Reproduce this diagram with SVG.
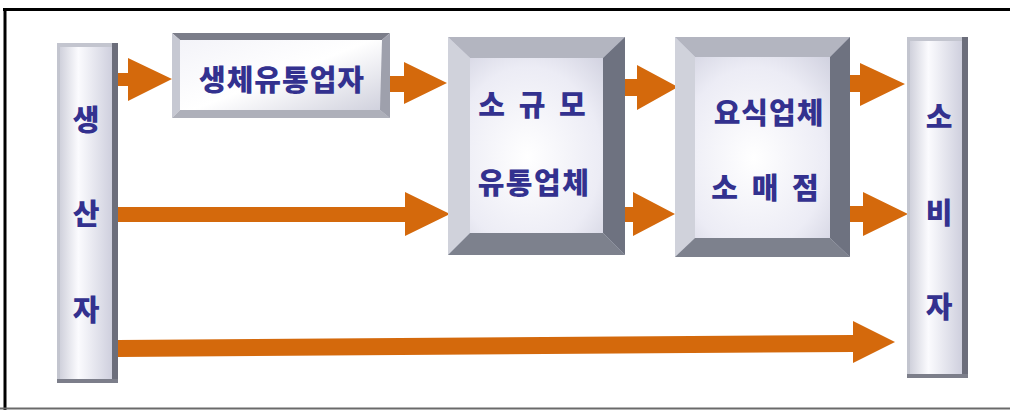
<svg xmlns="http://www.w3.org/2000/svg" width="1010" height="410" viewBox="0 0 1010 410">
<defs>
<style>
.t{font-family:"Noto Sans CJK KR","Noto Sans CJK SC",sans-serif;font-weight:900;font-size:29px;fill:#33318f;text-anchor:middle;dominant-baseline:central}
.arrow{fill:#d4690c}
.bt{fill:#b3b5c0}.bl{fill:#d0d2db}.br{fill:#6e7280}.bb{fill:#7d818d}
</style>
<linearGradient id="col" x1="0" y1="0" x2="1" y2="0">
<stop offset="0" stop-color="#c9cad6"/>
<stop offset="0.35" stop-color="#fbfbfe"/>
<stop offset="1" stop-color="#c7c8d8"/>
</linearGradient>
<radialGradient id="face" cx="0.45" cy="0.55" r="0.75">
<stop offset="0" stop-color="#ffffff"/>
<stop offset="0.55" stop-color="#ececf5"/>
<stop offset="1" stop-color="#c2c3d4"/>
</radialGradient>
<linearGradient id="face2" x1="0" y1="0" x2="1" y2="1">
<stop offset="0" stop-color="#f2f2f8"/>
<stop offset="0.5" stop-color="#ffffff"/>
<stop offset="1" stop-color="#c9cad8"/>
</linearGradient>
</defs>
<rect width="1010" height="410" fill="#ffffff"/>
<g id="frame">
<line x1="3" y1="9.5" x2="1010" y2="9.5" stroke="#000" stroke-width="3"/>
<line x1="5" y1="8" x2="5" y2="410" stroke="#000" stroke-width="3"/>
<line x1="0" y1="408.5" x2="1010" y2="408.5" stroke="#6a6a6a" stroke-width="2"/>
</g>
<g id="connectors">
<polygon class="arrow" points="118,73 128,73 128,58 172,79 128,101 128,86 118,86"/>
<polygon class="arrow" points="390,76 404,76 404,62 447,83 404,104 404,92 390,92"/>
<polygon class="arrow" points="118,207 405,207 405,192 450,214 405,236 405,222 118,222"/>
<polygon class="arrow" points="118,340 853,335 853,321 895,342 853,363 853,352 118,357"/>
<polygon class="arrow" points="625,79 637,79 637,65 678,87 637,110 637,96 625,96"/>
<polygon class="arrow" points="625,207 633,207 633,192 675,214 633,236 633,222 625,222"/>
<polygon class="arrow" points="850,75 860,75 860,63 905,84 860,106 860,92 850,92"/>
<polygon class="arrow" points="850,206 863,206 863,192 908,214 863,236 863,222 850,222"/>
</g>
<g id="producer">
<rect x="57" y="43" width="61" height="340" fill="url(#col)"/>
<rect x="57" y="43" width="61" height="4" fill="#c3c5cf"/>
<rect x="57" y="43" width="3" height="340" fill="#c3c5cf"/>
<rect x="112" y="43" width="6" height="340" fill="#6c6e7b"/>
<rect x="57" y="379" width="61" height="4" fill="#7c7e8a"/>
<text class="t" x="86" y="118">생</text>
<text class="t" x="86" y="212">산</text>
<text class="t" x="86" y="308">자</text>
</g>
<g id="bio-distributor">
<rect x="172" y="33" width="218" height="85" fill="url(#face2)"/>
<polygon fill="#7b7d89" points="172,33 390,33 382,40 180,40"/>
<polygon fill="#c6c8d2" points="172,33 180,40 180,110 172,118"/>
<polygon fill="#9ea0ac" points="390,33 390,118 380,110 382,40"/>
<polygon fill="#aeb0ba" points="172,118 390,118 380,110 180,110"/>
<text class="t" x="282" y="78" letter-spacing="1">생체유통업자</text>
</g>
<g id="small-distributor">
<rect x="448" y="37" width="177" height="218" fill="url(#face)"/>
<polygon class="bt" points="448,37 625,37 603,58 470,58"/>
<polygon class="bl" points="448,37 470,58 470,233 448,255"/>
<polygon class="br" points="625,37 625,255 603,233 603,58"/>
<polygon class="bb" points="448,255 625,255 603,233 470,233"/>
<text class="t" x="532" y="103" word-spacing="7">소 규 모</text>
<text class="t" x="534" y="181" letter-spacing="1.5">유통업체</text>
</g>
<g id="restaurant-retail">
<rect x="675" y="37" width="175" height="220" fill="url(#face)"/>
<polygon class="bt" points="675,37 850,37 830,57 695,57"/>
<polygon class="bl" points="675,37 695,57 695,238 675,257"/>
<polygon class="br" points="850,37 850,257 830,238 830,57"/>
<polygon class="bb" points="675,257 850,257 830,238 695,238"/>
<text class="t" x="769" y="111" letter-spacing="1">요식업체</text>
<text class="t" x="765" y="186" word-spacing="7">소 매 점</text>
</g>
<g id="consumer">
<rect x="907" y="37" width="61" height="341" fill="url(#col)"/>
<rect x="907" y="37" width="61" height="4" fill="#c3c5cf"/>
<rect x="907" y="37" width="3" height="341" fill="#c3c5cf"/>
<rect x="962" y="37" width="6" height="341" fill="#6c6e7b"/>
<rect x="907" y="374" width="61" height="4" fill="#7c7e8a"/>
<text class="t" x="939" y="115">소</text>
<text class="t" x="939" y="211">비</text>
<text class="t" x="939" y="305">자</text>
</g>
</svg>
